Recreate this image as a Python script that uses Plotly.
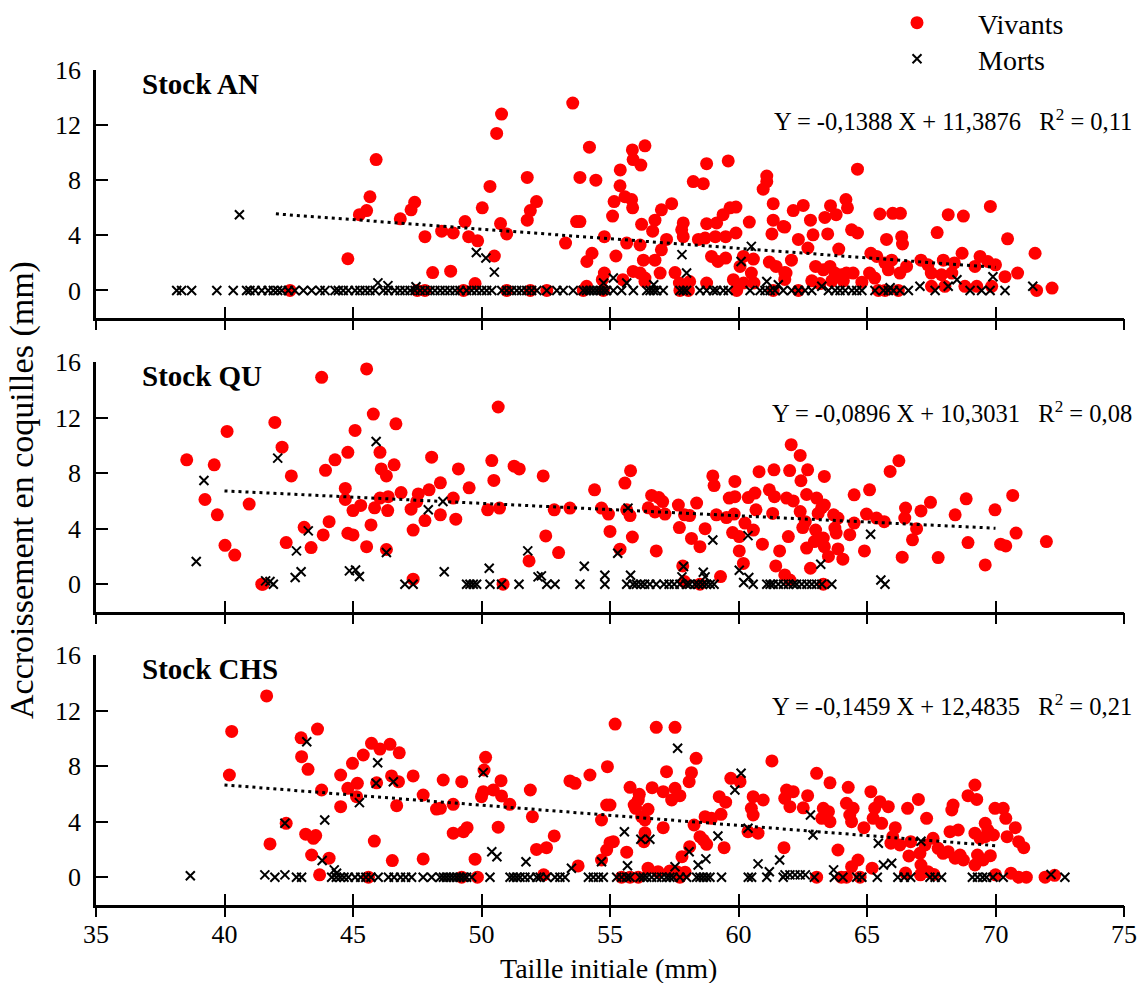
import plotly.graph_objects as go

# ---------------- Stock AN ----------------
an_viv_taille = [45.9, 45.66, 45.53, 45.25, 47.4, 47.26, 46.84, 47.8, 48.45, 44.8, 48.1, 42.55, 47.5, 47.8,
                 50.78, 50.59, 53.55, 54.2, 55.87, 56.36, 55.9, 56.2, 58.76, 59.6, 51.78, 53.83, 54.45, 55.4,
                 55.39, 58.24, 58.63, 61.1, 61.1, 60.96, 50.33, 50.03, 49.36, 48.9, 49.5, 49.85, 48.8, 50.74,
                 50.98, 50.5, 51.78, 51.9, 52.14, 53.7, 53.83, 53.27, 54.78, 55.1, 55.16, 55.58, 55.84, 55.88,
                 56.23, 56.66, 56.75, 57.0, 57.4, 57.2, 57.0, 56.75, 56.3, 55.65, 56.17, 55.23, 54.3, 54.1,
                 54.78, 55.9, 56.17, 56.36, 56.95, 57.53, 57.85, 57.79, 57.85, 58.44, 58.7, 58.76, 59.15, 59.4,
                 59.67, 59.9, 59.1, 59.5, 59.9, 58.95, 59.2, 59.5, 60.42, 60.19, 60.58, 60.06, 60.5, 61.35,
                 61.35, 61.3, 61.74, 61.2, 61.46, 61.85, 57.7, 58.1, 58.76, 59.8, 60.2, 60.6, 55.5, 56.36,
                 54.7, 49.75, 49.3, 50.98, 51.9, 52.54, 53.96, 54.74, 57.72, 58.05, 59.93, 61.35, 54.09,
                 64.63, 62.52, 62.13, 63.58, 64.18, 64.24, 62.8, 63.36, 63.8, 61.8, 62.33, 62.9, 63.47, 62.7,
                 63.9, 64.4, 64.63, 65.5, 66.0, 66.3, 65.76, 66.35, 66.38, 65.15, 65.38, 65.7, 65.96, 65.83,
                 66.54, 66.28, 65.1, 65.3, 67.73, 68.16, 68.75, 69.8, 70.47, 68.7, 67.97, 68.4, 67.1, 67.37,
                 69.2, 69.4, 69.7, 70.0, 67.5, 67.9, 68.3, 70.37, 70.86, 71.54, 71.6, 72.2, 61.8, 61.8,
                 62.06, 63.0, 63.3, 63.56, 63.75, 64.0, 64.2, 64.46, 62.85, 63.17, 63.63, 64.08, 68.81,
                 69.27, 69.85, 67.51, 68.03, 66.22, 65.44, 65.7, 62.33, 64.8]
an_viv_accr = [9.5, 6.8, 5.8, 5.5, 6.4, 5.85, 5.2, 3.9, 4.3, 2.3, 1.3, 0.0, 0.0, 0.0,
               12.8, 11.4, 13.6, 10.4, 10.2, 10.5, 9.5, 9.1, 9.2, 9.4, 8.2, 8.2, 8.0, 8.75,
               7.6, 7.9, 7.75, 8.3, 7.9, 7.35, 7.55, 6.0, 5.0, 4.17, 3.9, 3.6, 1.4, 4.85,
               4.1, 2.5, 5.1, 5.8, 6.45, 5.0, 5.0, 3.44, 3.9, 5.4, 6.45, 6.8, 6.6, 6.0,
               4.8, 4.3, 5.1, 5.85, 6.3, 3.7, 2.95, 2.2, 2.2, 3.44, 3.3, 2.5, 2.7, 2.1,
               1.26, 1.38, 1.26, 0.9, 1.26, 1.3, 4.9, 4.4, 3.9, 3.7, 3.8, 4.84, 4.9, 5.5,
               6.0, 6.05, 3.9, 3.9, 4.17, 2.47, 2.1, 2.35, 4.96, 2.47, 2.28, 1.74, 1.26, 6.3,
               5.1, 4.1, 4.64, 2.06, 1.74, 1.26, 0.54, 0.65, 0.54, 0.78, 0.54, 0.54, 0.78, 0.65,
               0.78, 0.5, 0.0, 0.0, 0.0, 0.0, 0.0, 0.0, 0.0, 0.0, 0.0, 0.0, 0.3,
               8.8, 6.17, 5.8, 6.15, 6.6, 6.0, 5.1, 5.3, 5.5, 4.6, 3.7, 4.04, 4.1, 3.08,
               3.0, 4.4, 4.17, 5.55, 5.6, 5.6, 3.7, 3.9, 3.37, 2.7, 2.47, 2.0, 2.2, 1.5,
               1.74, 1.26, 1.26, 0.9, 4.2, 5.5, 5.4, 6.1, 3.75, 2.7, 2.2, 2.0, 2.2, 1.86,
               1.74, 2.47, 2.1, 1.86, 1.26, 1.14, 1.26, 1.0, 1.26, 2.7, 0.0, 0.17, 1.3, 0.8,
               2.2, 1.74, 1.5, 1.74, 1.26, 1.14, 1.26, 1.26, 0.7, 0.5, 0.7, 0.7, 0.3,
               0.3, 0.3, 0.3, 0.3, 0.0, 0.0, 0.0, 0.0, 0.6]

an_mort_taille = [40.58, 45.97, 46.36, 47.45, 49.8, 50.17, 50.5, 57.8, 57.98, 60.5, 60.1, 55.13, 54.75,
                  55.65, 56.7, 61.1, 61.55, 69.9, 71.45, 68.5, 68.16, 67.06, 63.24, 65.9,
                  38.14, 38.33, 38.72, 39.7, 40.34, 40.86, 40.99, 41.19, 41.45, 41.7, 41.9, 42.07, 42.23,
                  42.48, 42.74, 43.07, 43.39, 43.72, 43.91, 44.3, 44.43, 44.62, 44.82, 45.08, 45.27, 45.47,
                  45.66, 45.86, 46.18, 46.37, 46.63, 46.83, 47.02, 47.22, 47.41, 47.61, 47.8, 48.0, 48.19,
                  48.39, 48.58, 48.77, 48.97, 49.16, 49.42, 49.62, 49.81, 50.01, 50.2, 50.4, 50.79, 50.98,
                  51.17, 51.37, 51.56, 51.76, 51.95, 52.15, 52.54, 52.93, 53.18, 53.57, 53.96, 54.09, 54.22,
                  54.35, 54.48, 54.61, 54.74, 54.87, 55.13, 55.45, 55.91, 56.43, 56.56, 56.69, 56.82, 57.07,
                  57.72, 57.85, 57.98, 58.5, 58.76, 59.02, 59.15, 59.41, 59.6, 60.45, 60.84, 61.03, 61.23,
                  61.42, 61.74, 62.07, 62.33, 62.59, 62.85, 63.5, 63.76, 63.95, 64.15, 64.41, 64.6, 64.8,
                  65.31, 65.64, 65.83, 66.03, 66.28, 66.61, 67.65, 69.01, 69.46, 69.79, 70.37]
an_mort_accr = [5.5, 0.55, 0.35, 0.27, 2.75, 2.35, 1.33, 2.6, 1.26, 3.2, 2.1, 0.9, 0.54,
                0.54, 0.41, 0.65, 0.41, 1.0, 0.3, 0.78, 0.3, 0.3, 0.3, 0.2] + [0.0] * 117

# ---------------- Stock QU ----------------
qu_viv_taille = [43.78, 45.53, 45.79, 46.67, 41.96, 40.1, 45.08, 42.24, 44.8, 46.05, 44.3, 43.93, 38.53,
                 39.6, 48.06, 42.6, 46.1, 46.3, 46.6, 44.7, 44.7, 46.87, 47.54, 47.96, 48.4, 39.24, 40.96,
                 39.72, 45.3, 45.0, 45.84, 46.05, 46.37, 46.35, 47.26, 47.48, 47.8, 48.4, 45.7, 44.07, 43.1,
                 43.84, 44.8, 45.0, 47.34, 42.4, 43.37, 45.53, 46.3, 40.02, 40.4, 47.34, 41.45, 41.5,
                 50.65, 50.4, 50.48, 51.27, 51.47, 49.1, 49.52, 52.4, 48.9, 49.0, 50.24, 50.7, 52.83, 53.44,
                 52.5, 53.0, 51.85, 50.84, 54.4, 54.67, 54.94, 55.0, 55.39, 55.58, 55.8, 55.65, 55.78, 55.87,
                 56.62, 56.9, 57.05, 56.49, 56.75, 57.14, 56.8, 57.66, 57.9, 58.1, 58.37, 57.7, 58.17, 58.5,
                 58.7, 59.0, 59.05, 59.14, 59.53, 59.3, 57.83, 57.9, 58.5, 59.64, 59.86, 59.86, 59.83, 59.77,
                 60.03, 60.03, 60.19, 60.25, 60.58, 60.68, 60.38, 60.64, 60.8, 60.93, 61.2, 61.4, 61.38,
                 61.33, 61.87, 61.6, 61.45, 61.8, 61.94, 62.05, 61.99,
                 62.4, 62.69, 62.43, 63.34, 66.24, 65.9, 62.13, 62.65, 63.04, 63.24, 63.34, 62.4, 63.1,
                 63.7, 63.87, 62.6, 62.5, 63.0, 63.75, 63.8, 62.95, 63.3, 63.34, 62.65, 63.87, 63.5, 64.06,
                 62.8, 64.5, 65.1, 64.33, 64.5, 64.9, 64.98, 65.37, 65.67, 66.5, 66.47, 67.1, 67.47, 66.93,
                 66.77, 66.37, 67.77, 68.43, 68.86, 69.98, 70.67, 68.93, 69.6, 70.2, 70.4, 70.8, 71.98,
                 62.0, 63.3]
qu_viv_accr = [14.9, 15.5, 12.25, 11.55, 11.65, 11.0, 11.07, 9.87, 9.5, 9.5, 8.96, 8.2, 8.96,
               8.6, 9.15, 7.8, 8.3, 7.8, 8.6, 6.9, 6.1, 6.6, 6.5, 6.8, 7.3, 6.1, 5.77,
               5.0, 5.67, 5.3, 5.5, 6.2, 6.3, 5.3, 5.4, 5.95, 4.58, 5.0, 4.27, 4.5, 4.1,
               3.55, 3.67, 3.55, 3.9, 3.0, 2.64, 2.7, 2.5, 2.8, 2.1, 0.36, 0.0, 0.0,
               12.76, 8.9, 7.47, 8.5, 8.3, 8.3, 6.94, 7.8, 6.2, 4.68, 5.36, 5.48, 5.36, 5.48,
               3.48, 2.28, 1.68, 0.0, 6.8, 5.48, 5.05, 3.8, 2.52, 7.28, 8.17, 5.36, 4.94, 3.4,
               6.39, 6.24, 5.95, 5.5, 5.2, 5.05, 2.4, 5.7, 5.0, 4.94, 5.84, 4.08, 3.3, 2.7,
               4.0, 7.8, 7.1, 5.0, 4.8, 0.55, 1.32, 0.19, 0.0, 6.2, 6.3, 7.4, 5.05, 3.72,
               3.43, 2.4, 1.5, 4.4, 3.9, 5.36, 6.24, 6.56, 8.1, 2.88, 6.8, 6.3, 8.24,
               5.1, 6.2, 2.4, 1.32, 0.67, 3.43, 10.05, 8.18,
               9.27, 8.24, 7.45, 7.76, 8.89, 8.12, 6.0, 6.46, 6.2, 5.52, 5.7, 5.23, 5.1,
               5.0, 4.76, 4.5, 4.08, 3.9, 4.04, 3.68, 3.07, 3.32, 2.7, 2.6, 2.54, 2.0, 1.8,
               1.15, 6.44, 6.8, 3.57, 4.4, 2.4, 5.05, 4.76, 4.5, 5.48, 4.76, 5.28, 5.9, 4.0,
               3.2, 1.95, 1.92, 5.0, 6.15, 5.36, 6.39, 3.0, 1.39, 2.88, 2.76, 3.68, 3.07,
               0.3, 0.0]

qu_mort_taille = [39.2, 38.9, 42.07, 45.9, 43.26, 42.8, 42.98, 42.75, 41.6, 41.77, 41.9, 44.86, 45.1,
                  45.25, 46.3, 47.93, 47.02, 47.34, 48.55, 48.5, 50.3, 50.33, 50.78, 51.46, 49.42, 49.55,
                  49.68, 49.81, 51.8, 52.2, 52.33, 52.54, 52.86, 53.83, 54.0, 54.8, 54.8, 55.3, 55.7, 55.8,
                  55.65, 55.9, 56.03, 56.2, 56.35, 56.55, 56.8, 57.1, 57.3, 57.5, 57.86, 57.8, 57.72, 57.97,
                  58.1, 58.3, 58.44, 58.63, 58.7, 59.0, 58.6, 58.75, 58.9, 59.05, 60.03, 60.2, 60.4, 60.57,
                  60.37, 61.1, 61.23, 61.35, 61.55, 61.75, 61.94, 62.13, 62.26, 62.46, 62.66, 62.85, 63.04,
                  63.24, 63.63, 65.14, 63.2, 65.54, 65.7]
qu_mort_accr = [7.47, 1.63, 9.08, 10.28, 3.84, 2.4, 0.9, 0.48, 0.24, 0.2, 0.0, 0.96, 1.03,
                0.55, 2.28, 5.36, 0.0, 0.0, 0.9, 5.95, 1.15, 0.0, 0.0, 0.0, 0.0, 0.0,
                0.0, 0.0, 2.4, 0.53, 0.6, 0.0, 0.0, 0.0, 1.3, 0.65, 0.0, 2.23, 5.48, 0.65,
                0.0, 0.0, 0.0, 0.0, 0.0, 0.0, 0.0, 0.0, 0.0, 0.0, 1.27, 0.53, 0.0, 0.0,
                0.0, 0.0, 0.0, 0.86, 0.53, 3.19, 0.0, 0.0, 0.0, 0.0, 1.0, 0.12, 0.48, 0.0,
                3.5, 0.0, 0.0, 0.0, 0.0, 0.0, 0.0, 0.0, 0.0, 0.0, 0.0, 0.0, 0.0,
                0.0, 0.0, 3.6, 1.44, 0.3, 0.0]

# ---------------- Stock CHS ----------------
chs_viv_taille = [41.64, 40.28, 40.19, 43.62, 42.98, 43.0, 43.25, 43.78, 44.52, 44.8, 44.98, 45.17, 45.4,
                  45.14, 44.52, 45.72, 46.05, 46.44, 46.8, 45.92, 46.5, 46.77, 47.34, 46.7, 47.73, 48.25,
                  48.51, 42.4, 41.77, 43.16, 43.46, 43.55, 43.39, 44.07, 43.7, 45.83, 46.53, 47.73, 45.6,
                  48.4, 49.23, 48.9, 48.9, 49.3, 49.44, 49.75, 49.84, 49.23, 50.16, 50.1, 50.07, 50.0, 50.46,
                  50.76, 50.78, 51.1, 50.65, 51.9, 51.98, 52.83, 52.53, 52.14, 52.42, 53.44, 53.64, 54.22,
                  54.9, 53.76, 55.2, 56.8, 57.53, 54.87, 55.0, 54.67, 55.0, 55.13, 54.87, 54.67, 55.65, 55.78,
                  56.14, 56.1, 56.0, 55.94, 56.23, 56.48, 56.36, 56.36, 56.32, 56.64, 57.07, 57.2, 57.4,
                  57.53, 57.72, 58.35, 58.17, 58.08, 57.07, 56.48, 56.87, 57.33, 57.6, 57.92, 57.8, 58.1,
                  58.27, 58.7, 58.95, 58.5, 58.63, 58.76, 59.25, 59.5, 59.32, 59.44, 59.7, 60.06, 60.57,
                  60.5, 60.57, 60.96, 60.37, 60.76, 61.3, 61.87, 62.0, 61.77, 55.45, 55.78, 56.1, 57.72,
                  63.04, 63.56, 64.27, 65.15, 62.13, 62.69, 62.52, 61.8, 63.3, 63.5, 63.56, 63.24, 64.2,
                  64.46, 64.33, 64.4, 64.88, 65.5, 65.83, 65.3, 65.24, 65.57, 66.1, 66.0, 65.93, 66.28,
                  66.58, 67.0, 67.32, 66.7, 67.06, 66.63, 67.26, 67.1, 67.37, 67.08, 67.57, 67.77, 67.96,
                  68.16, 68.35, 68.3, 68.23, 68.55, 68.62, 68.43, 68.75, 68.93, 69.2, 69.27, 69.2, 69.4,
                  69.6, 69.7, 69.92, 69.6, 69.3, 69.8, 69.2, 69.52, 69.98, 70.3, 70.4, 70.77, 70.45, 70.9,
                  71.1, 70.0, 70.6, 70.9, 71.2, 71.93, 72.3, 63.87, 64.65, 64.4, 65.2, 63.04, 64.2, 64.73,
                  64.0, 66.5, 67.6]
chs_viv_accr = [13.05, 10.5, 7.36, 10.67, 10.04, 8.68, 7.77, 6.28, 7.36, 6.4, 8.2, 6.76, 8.8,
                5.8, 5.08, 9.64, 9.23, 9.57, 8.96, 6.8, 7.29, 6.88, 7.29, 5.15, 5.92, 4.91,
                7.0, 3.88, 2.4, 3.1, 2.8, 3.0, 1.6, 1.37, 0.17, 2.6, 1.2, 1.32, 0.0,
                4.96, 6.88, 5.25, 3.17, 3.28, 3.57, 1.3, 0.0, 0.0, 8.63, 7.72, 6.16, 5.8, 6.28,
                6.95, 5.85, 5.25, 3.6, 6.28, 4.36, 2.97, 2.13, 2.0, 0.17, 6.93, 6.76, 7.36,
                7.96, 0.81, 11.03, 10.79, 10.79, 5.2, 5.2, 4.12, 2.49, 2.56, 1.96, 1.24, 1.8, 6.47,
                5.97, 5.56, 4.96, 5.2, 4.36, 4.89, 4.12, 3.2, 2.56, 6.45, 6.16, 7.6, 5.56,
                6.4, 5.87, 8.56, 7.53, 6.88, 3.57, 0.65, 0.4, 0.45, 0.4, 0.36, 1.48, 2.2,
                3.76, 4.36, 4.24, 2.92, 2.68, 2.37, 5.8, 5.4, 4.53, 2.13, 7.12, 6.88, 5.8,
                4.96, 4.48, 5.56, 3.28, 3.17, 8.37, 6.28, 5.08, 2.13, 0.0, 0.0, 0.0, 0.0,
                7.48, 6.8, 6.47, 6.16, 6.16, 5.87, 5.0, 5.68, 4.96, 4.72, 4.0, 4.24, 5.32,
                4.96, 4.48, 4.0, 3.57, 5.44, 5.08, 4.96, 4.24, 3.88, 3.57, 2.92, 2.45, 2.32,
                4.96, 5.6, 4.24, 2.56, 1.72, 1.53, 2.32, 0.88, 0.4, 0.17, 2.8, 2.08, 1.72,
                1.84, 5.2, 4.84, 3.28, 3.4, 1.6, 1.37, 1.24, 5.87, 6.64, 5.6, 3.17, 2.8,
                3.88, 3.4, 3.04, 2.92, 1.6, 1.55, 0.88, 1.24, 4.96, 4.96, 4.24, 3.57, 2.92, 2.56,
                2.13, 0.17, 0.29, 0.0, 0.0, 0.0, 0.14, 1.96, 1.24, 0.76, 0.65, 0.0, 0.0, 0.0,
                0.0, 0.3, 0.2]

chs_mort_taille = [43.2, 42.35, 43.9, 43.8, 45.96, 45.9, 46.57, 45.25, 44.27, 44.36, 41.57, 42.35, 50.07,
                   50.4, 50.6, 51.73, 53.5, 54.67, 55.56, 56.2, 56.55, 55.68, 57.63, 58.08, 58.43, 58.73,
                   59.2, 59.86, 60.1, 60.37, 60.76, 61.2, 61.6, 57.53, 62.8, 62.9, 65.44, 67.1, 65.64,
                   65.96, 63.7, 72.16, 61.81, 62.0, 62.2, 62.4, 62.6,
                   38.67, 41.96, 42.8, 43.0, 44.17, 44.35, 44.5, 44.65, 44.82, 45.08, 45.3, 45.5, 45.7,
                   45.98, 46.38, 46.6, 46.85, 47.05, 47.28, 47.73, 48.06, 48.39, 48.52, 48.64, 48.77, 48.9,
                   49.03, 49.16, 49.29, 49.42, 49.62, 50.33, 51.11, 51.24, 51.37, 51.5, 51.69, 51.89, 52.15,
                   52.28, 52.54, 52.86, 53.05, 53.25, 54.16, 54.35, 54.55, 54.74, 55.26, 55.45, 55.65, 55.78,
                   56.17, 56.3, 56.43, 56.62, 56.82, 57.01, 57.2, 57.33, 57.46, 57.72, 57.98, 58.37, 58.5,
                   58.63, 58.76, 58.89, 59.34, 60.38, 60.51, 61.1, 61.74, 62.95, 63.73, 64.06, 64.6, 64.8,
                   65.4, 66.2, 66.45, 66.7, 67.45, 67.65, 67.9, 69.1, 69.3, 69.5, 69.65, 69.9, 70.3, 72.7]
chs_mort_accr = [9.76, 3.88, 4.12, 1.2, 8.24, 6.76, 6.88, 5.37, 0.53, 0.29, 0.17, 0.17, 7.53,
                 1.84, 1.48, 1.12, 0.65, 1.12, 3.28, 2.73, 2.73, 0.83, 9.28, 1.84, 0.88, 1.32,
                 2.97, 6.28, 7.48, 3.53, 0.96, 0.4, 1.24, 0.76, 4.48, 3.04, 2.45, 2.59, 0.88,
                 1.0, 0.53, 0.2, 0.17, 0.17, 0.17, 0.17, 0.17] + [0.1] + [0.0] * 92

# Regression lines (Y = a X + b) and their x extents
stocks = ["Stock AN", "Stock QU", "Stock CHS"]
reg_pente = [-0.1388, -0.0896, -0.1459]
reg_origine = [11.3876, 10.3031, 12.4835]
reg_r2 = ["0,11", "0,08", "0,21"]
reg_xmin = [42.0, 40.0, 40.0]
reg_xmax = [70.0, 70.0, 70.0]
x_ticks = [35, 40, 45, 50, 55, 60, 65, 70, 75]
y_ticks = [0, 4, 8, 12, 16]

vivants = [(an_viv_taille, an_viv_accr), (qu_viv_taille, qu_viv_accr), (chs_viv_taille, chs_viv_accr)]
morts = [(an_mort_taille, an_mort_accr), (qu_mort_taille, qu_mort_accr), (chs_mort_taille, chs_mort_accr)]

FONT = "Liberation Serif, Times New Roman, serif"
W, H = 1137, 983
ML, MR, MT, MB = 96, 13, 70, 78
plot_w = W - ML - MR
plot_h = H - MT - MB
# panel pixel bounds (top, bottom) measured from top of the page
panels_px = [(70, 318), (362, 612), (655, 905)]
domains = [[(H - MB - b) / plot_h, (H - MB - t) / plot_h] for t, b in panels_px]

fig = go.Figure()

for i in range(3):
    sfx = "" if i == 0 else str(i + 1)
    xa, ya = "x" + sfx, "y" + sfx
    vx, vy = vivants[i]
    mx, my = morts[i]
    fig.add_trace(go.Scatter(
        x=vx, y=vy, mode="markers", name="Vivants", xaxis=xa, yaxis=ya,
        marker=dict(symbol="circle", size=13, color="#ff0000", line=dict(width=0)),
        showlegend=(i == 0), legend="legend"))
    fig.add_trace(go.Scatter(
        x=mx, y=my, mode="markers", name="Morts", xaxis=xa, yaxis=ya,
        marker=dict(symbol="x-thin", size=9, color="black", line=dict(width=2, color="black")),
        showlegend=(i == 0), legend="legend2"))
    lx = [reg_xmin[i], reg_xmax[i]]
    ly = [reg_pente[i] * v + reg_origine[i] for v in lx]
    fig.add_trace(go.Scatter(
        x=lx, y=ly, mode="lines", xaxis=xa, yaxis=ya, showlegend=False, hoverinfo="skip",
        line=dict(color="black", width=3, dash="3px,4px")))
    # invisible trace so the overlay axis carrying the outer tick marks is drawn
    fig.add_trace(go.Scatter(
        x=[50], y=[-10], mode="markers", xaxis="x" + str(i + 4), yaxis=ya, showlegend=False,
        hoverinfo="skip", marker=dict(opacity=0)))

    fig.update_layout(**{
        "xaxis" + sfx: dict(
            domain=[0, 1], anchor=ya, range=[35, 75], tickvals=x_ticks,
            showticklabels=(i == 2), ticks="inside", ticklen=11, tickwidth=2, tickcolor="black",
            ticklabelstandoff=4,
            showline=True, linewidth=2.5, linecolor="black", showgrid=False, zeroline=False,
            tickfont=dict(family=FONT, size=26, color="black")),
        "xaxis" + str(i + 4): dict(
            overlaying=xa, anchor=ya, range=[35, 75], tickvals=x_ticks, showticklabels=False,
            ticks="outside", ticklen=11, tickwidth=2, tickcolor="black", showline=False,
            showgrid=False, zeroline=False),
        "yaxis" + sfx: dict(
            domain=domains[i], anchor=xa, range=[-2, 16], tickvals=y_ticks,
            ticks="inside", ticklen=12, tickwidth=2, tickcolor="black", ticklabelstandoff=7,
            showline=True, linewidth=2.5, linecolor="black", showgrid=False, zeroline=False,
            tickfont=dict(family=FONT, size=26, color="black")),
    })

    dom = "x" + sfx + " domain"
    ydom = "y" + sfx + " domain"
    fig.add_annotation(
        x=0.043, y=0.945, xref=dom, yref=ydom, xanchor="left", yanchor="middle",
        text="<b>" + stocks[i] + "</b>", showarrow=False,
        font=dict(family=FONT, size=29, color="black"))
    a = f"{reg_pente[i]:.4f}".replace(".", ",")
    b = f"{reg_origine[i]:.4f}".replace(".", ",")
    eq = ("Y = " + a + " X + " + b + "\u00a0\u00a0\u00a0R<sup>2</sup> = " + reg_r2[i])
    fig.add_annotation(
        x=(1134 - ML) / plot_w, y=0.8, xref=dom, yref=ydom, xanchor="right", yanchor="middle",
        text=eq, showarrow=False, font=dict(family=FONT, size=24.5, color="black"))

fig.add_annotation(
    x=(22 - ML) / plot_w, y=(H - MB - 490) / plot_h, xref="paper", yref="paper",
    text="Accroissement en coquilles (mm)", textangle=-90, showarrow=False,
    xanchor="center", yanchor="middle", font=dict(family=FONT, size=34, color="black"))
fig.add_annotation(
    x=(608 - ML) / plot_w, y=(H - MB - 968) / plot_h, xref="paper", yref="paper",
    text="Taille initiale (mm)", showarrow=False,
    xanchor="center", yanchor="middle", font=dict(family=FONT, size=28, color="black"))

legend_style = dict(xref="container", yref="container", xanchor="left", yanchor="middle",
                    font=dict(family=FONT, size=28, color="black"), bgcolor="rgba(0,0,0,0)",
                    itemwidth=112)
fig.update_layout(
    width=W, height=H,
    margin=dict(l=ML, r=MR, t=MT, b=MB, autoexpand=False),
    paper_bgcolor="white", plot_bgcolor="white",
    legend=dict(x=856 / W, y=1 - 23 / H, **legend_style),
    legend2=dict(x=856 / W, y=1 - 59 / H, **legend_style),
    hovermode=False,
)

fig.write_html("out.html")
